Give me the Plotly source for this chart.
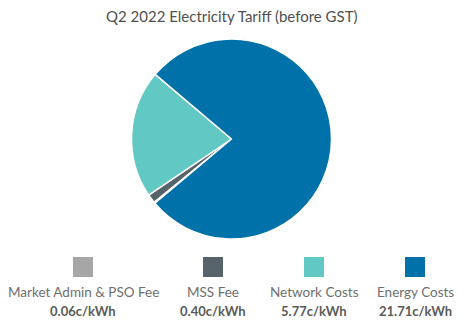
import plotly.graph_objects as go

categories = ["Market Admin & PSO Fee", "MSS Fee", "Network Costs", "Energy Costs"]
values = [0.06, 0.40, 5.77, 21.71]
value_labels = ["0.06c/kWh", "0.40c/kWh", "5.77c/kWh", "21.71c/kWh"]
colors = ["#a6a6a6", "#56636b", "#62c8c3", "#0071a9"]
title_text = "Q2 2022 Electricity Tariff (before GST)"

W, H = 464, 323
cx, cy, r = 231.5, 139, 100

fig = go.Figure()
fig.add_trace(go.Pie(
    labels=categories,
    values=values,
    sort=False,
    direction="clockwise",
    rotation=230,
    marker=dict(colors=colors, line=dict(color="white", width=1.5)),
    textinfo="none",
    hoverinfo="label+value",
    showlegend=False,
    domain=dict(x=[(cx - r) / W, (cx + r) / W], y=[1 - (cy + r) / H, 1 - (cy - r) / H]),
))

font_family = "Lato, 'Noto Sans', sans-serif"
legend_x = [83, 213, 314, 415]
sq = 20
for i, (cat, val, col) in enumerate(zip(categories, value_labels, colors)):
    x = legend_x[i]
    fig.add_shape(type="rect", xref="paper", yref="paper",
                  x0=(x - sq / 2) / W, x1=(x + sq / 2) / W,
                  y0=1 - 277 / H, y1=1 - 257 / H,
                  fillcolor=col, line=dict(width=0))
    fig.add_annotation(x=x / W, y=1 - 292 / H, xref="paper", yref="paper",
                       text=cat, showarrow=False, xanchor="center", yanchor="middle",
                       font=dict(family=font_family, size=13.5, color="#6e6e6e"))
    fig.add_annotation(x=x / W, y=1 - 311 / H, xref="paper", yref="paper",
                       text="<b>" + val + "</b>", showarrow=False, xanchor="center", yanchor="middle",
                       font=dict(family=font_family, size=13, color="#5a5a5a"))

fig.add_annotation(x=0.5, y=1 - 16 / H, xref="paper", yref="paper",
                   text=title_text, showarrow=False, xanchor="center", yanchor="middle",
                   font=dict(family=font_family, size=15, color="#505050"))

fig.update_layout(
    width=W, height=H,
    margin=dict(l=0, r=0, t=0, b=0),
    paper_bgcolor="white", plot_bgcolor="white",
)

fig.write_html("out.html")
